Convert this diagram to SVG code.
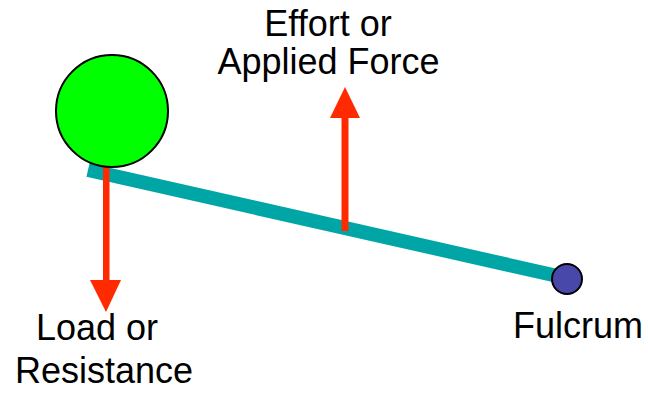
<svg xmlns="http://www.w3.org/2000/svg" width="648" height="393" viewBox="0 0 648 393">
<style>
text{font-family:"Liberation Sans",Arial,sans-serif;font-size:36px;fill:#000}
.force{fill:#FF2A00}
</style>
<rect width="648" height="393" fill="#fff"/>
<g id="connectors">
<line x1="88" y1="170" x2="562" y2="277" stroke="#00A6A6" stroke-width="14"/>
<g id="effort-arrow">
<rect class="force" x="341.5" y="116" width="7" height="115"/>
<polygon class="force" points="345,87 360,118 330,118"/>
</g>
<g id="load-arrow">
<rect class="force" x="103" y="166" width="6.5" height="116"/>
<polygon class="force" points="106,312 121,280 90,280"/>
</g>
</g>
<g id="load">
<circle cx="112" cy="111" r="56" fill="#00FF00" stroke="#000" stroke-width="2"/>
</g>
<g id="fulcrum">
<circle cx="567" cy="279" r="15" fill="#4848AA" stroke="#000" stroke-width="2"/>
</g>
<g id="effort-label">
<text x="328" y="36" text-anchor="middle">Effort or</text>
<text x="328.5" y="74" text-anchor="middle">Applied Force</text>
</g>
<g id="load-label">
<text x="36" y="340">Load or</text>
<text x="15" y="383">Resistance</text>
</g>
<g id="fulcrum-label">
<text x="513" y="338">Fulcrum</text>
</g>
</svg>
